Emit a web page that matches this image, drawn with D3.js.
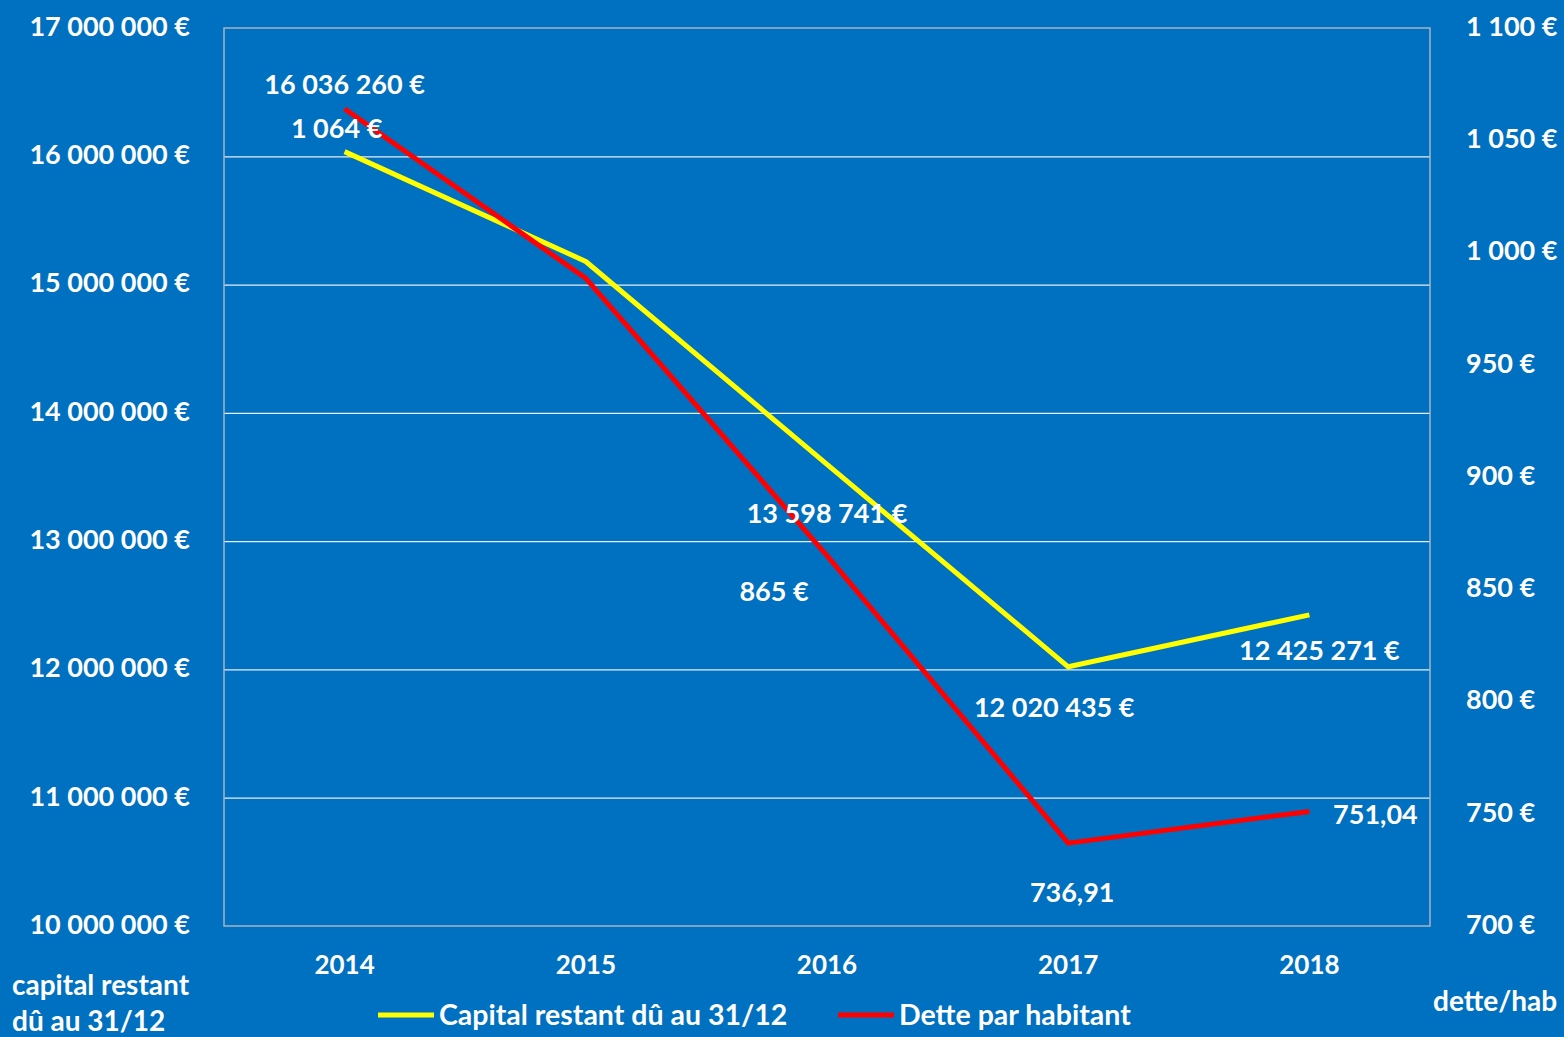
<!DOCTYPE html>
<html>
<head>
<meta charset="utf-8">
<script src="https://cdn.jsdelivr.net/npm/d3@7"></script>
<style>
  html, body { margin: 0; padding: 0; background: #0070C0; }
  svg { display: block; }
  text { font-family: Lato, "Open Sans", sans-serif; font-weight: 700; fill: #fff; }
</style>
</head>
<body>
<svg id="chart" width="1564" height="1037"></svg>
<script>
// Data
const years = ["2014", "2015", "2016", "2017", "2018"];
const capital = [16036260, 15180000, 13598741, 12020435, 12425271];
const detteHab = [1064, 988.5, 865, 736.91, 751.04];

// labels shown on the chart (2015 has none)
const capitalLabels = ["16 036 260 €", null, "13 598 741 €", "12 020 435 €", "12 425 271 €"];
const detteLabels = ["1 064 €", null, "865 €", "736,91", "751,04"];

const leftTicks = [10000000, 11000000, 12000000, 13000000, 14000000, 15000000, 16000000, 17000000];
const rightTicks = [700, 750, 800, 850, 900, 950, 1000, 1050, 1100];

const svg = d3.select("#chart");
const margin = { top: 28, right: 134, bottom: 111, left: 224 };
const width = 1564, height = 1037;
const innerWidth = width - margin.left - margin.right;
const innerHeight = height - margin.top - margin.bottom;

const g = svg.append("g").attr("transform", `translate(${margin.left}, ${margin.top})`);

// Scales
const xScale = d3.scaleBand().domain(years).range([0, innerWidth]);
const yLeft = d3.scaleLinear().domain([10000000, 17000000]).range([innerHeight, 0]);
const yRight = d3.scaleLinear().domain([700, 1100]).range([innerHeight, 0]);

const fmtSpace = n => d3.format(",")(n).replace(/,/g, " ");

// gridlines
g.append("g")
  .call(d3.axisLeft(yLeft).tickValues(leftTicks.slice(1, -1)).tickSize(-innerWidth).tickFormat(""))
  .call(a => a.select(".domain").remove())
  .selectAll("line").attr("stroke", "#e6eef8").attr("stroke-width", 1.3);

// plot border
g.append("rect")
  .attr("width", innerWidth).attr("height", innerHeight)
  .attr("fill", "none").attr("stroke", "#a6b4c4").attr("stroke-width", 1.5);

// Left axis
const gLeft = g.append("g")
  .call(d3.axisLeft(yLeft).tickValues(leftTicks).tickSize(0).tickPadding(34)
    .tickFormat(d => fmtSpace(d) + " €"));
gLeft.select(".domain").remove();
gLeft.selectAll("text").attr("font-size", 27).attr("fill", "#fff")
  .style("font-family", "Lato, sans-serif").attr("dy", "0.27em");

// Right axis
const gRight = g.append("g").attr("transform", `translate(${innerWidth}, 0)`)
  .call(d3.axisRight(yRight).tickValues(rightTicks).tickSize(0).tickPadding(36)
    .tickFormat(d => fmtSpace(d) + " €"));
gRight.select(".domain").remove();
gRight.selectAll("text").attr("font-size", 27).attr("fill", "#fff")
  .style("font-family", "Lato, sans-serif").attr("dy", "0.27em");

// X axis
const gX = g.append("g").attr("transform", `translate(0, ${innerHeight})`)
  .call(d3.axisBottom(xScale).tickSize(0).tickPadding(30));
gX.select(".domain").remove();
gX.selectAll("text").attr("font-size", 26).attr("fill", "#fff")
  .style("font-family", "Lato, sans-serif");

// Lines
const capLine = d3.line()
  .x((d, i) => xScale(years[i]) + xScale.bandwidth() / 2)
  .y(d => yLeft(d));
const detteLine = d3.line()
  .x((d, i) => xScale(years[i]) + xScale.bandwidth() / 2)
  .y(d => yRight(d));

g.append("path").datum(capital)
  .attr("fill", "none").attr("stroke", "#FFFF00").attr("stroke-width", 5)
  .attr("stroke-linejoin", "round").attr("d", capLine);

g.append("path").datum(detteHab)
  .attr("fill", "none").attr("stroke", "#FF0000").attr("stroke-width", 5)
  .attr("stroke-linejoin", "round").attr("d", detteLine);

// Data labels (offsets relative to the point)
const capOffsets = [[0, -67], null, [0, 49], [-14, 41], [10, 36]];
const detteOffsets = [[-8, 20], null, [-53, 36], [4, 49], [66, 3]];

capital.forEach((v, i) => {
  if (!capitalLabels[i]) return;
  g.append("text")
    .attr("x", xScale(years[i]) + xScale.bandwidth() / 2 + capOffsets[i][0])
    .attr("y", yLeft(v) + capOffsets[i][1])
    .attr("text-anchor", "middle").attr("font-size", 27)
    .attr("dy", "0.35em")
    .text(capitalLabels[i]);
});

detteHab.forEach((v, i) => {
  if (!detteLabels[i]) return;
  g.append("text")
    .attr("x", xScale(years[i]) + xScale.bandwidth() / 2 + detteOffsets[i][0])
    .attr("y", yRight(v) + detteOffsets[i][1])
    .attr("text-anchor", "middle").attr("font-size", 27)
    .attr("dy", "0.35em")
    .text(detteLabels[i]);
});

// Axis titles
svg.append("text").attr("x", 12).attr("y", 995).attr("font-size", 28).text("capital restant");
svg.append("text").attr("x", 12).attr("y", 1031).attr("font-size", 28).text("dû au 31/12");
svg.append("text").attr("x", 1433).attr("y", 1011).attr("font-size", 28).text("dette/hab");

// Legend
const legend = svg.append("g").attr("transform", "translate(378, 1015)");
const legendItems = [
  { name: "Capital restant dû au 31/12", color: "#FFFF00", x: 0 },
  { name: "Dette par habitant", color: "#FF0000", x: 460 }
];
legendItems.forEach(item => {
  legend.append("line")
    .attr("x1", item.x).attr("x2", item.x + 56)
    .attr("y1", 0).attr("y2", 0)
    .attr("stroke", item.color).attr("stroke-width", 5);
  legend.append("text")
    .attr("x", item.x + 61).attr("y", 0)
    .attr("dy", "0.35em").attr("font-size", 28.5)
    .text(item.name);
});
</script>
</body>
</html>
